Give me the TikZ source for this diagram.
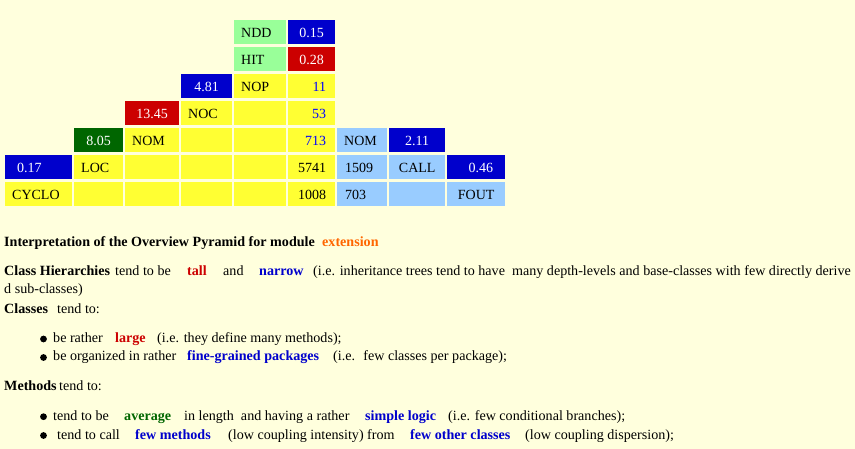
\documentclass[tikz,border=0pt]{standalone}
\usepackage{fontspec}
\setmainfont{Liberation Serif}
\usepackage{xcolor}
\definecolor{pagebg}{HTML}{FFFFDD}
\definecolor{cellyellow}{HTML}{FFFF33}
\definecolor{cellgreen}{HTML}{99FF99}
\definecolor{cellblue}{HTML}{99CCFF}
\definecolor{lowblue}{HTML}{0000CC}
\definecolor{highred}{HTML}{CC0000}
\definecolor{avggreen}{HTML}{006600}
\definecolor{modorange}{HTML}{FF6600}
\newcommand\cellfont{\fontsize{14}{15}\selectfont}
\newcommand\bodyfont{\fontsize{14.1}{16}\selectfont}

\begin{document}
\begin{tikzpicture}[x=1pt,y=-1pt,
	cell/.style={rectangle,anchor=north west,inner sep=0pt,minimum height=24pt,text height=11.5pt,text depth=0.5pt,font=\cellfont},
	lab/.style={cell,inner xsep=7pt,align=left},
	val/.style={cell,text=white},
	cnt/.style={cell,fill=cellyellow,inner xsep=9pt,text width=29pt,align=right},
	txt/.style={anchor=base west,inner sep=0pt,font=\bodyfont},
	hi/.style={txt,font=\bodyfont\bfseries},
	dot/.style={circle,fill=black,inner sep=0pt,minimum size=6.8pt}]
	\useasboundingbox (0,0) rectangle (855,449);
	\fill [pagebg] (0,0) rectangle (855,449);
	% pyramid
	\node (ndd) [lab,fill=cellgreen,text width=38pt] at (234,20) {NDD};
	\node (vndd) [val,fill=lowblue,minimum width=47pt] at (288,20) {0.15};
	\node (hit) [lab,fill=cellgreen,text width=38pt] at (234,47) {HIT};
	\node (vhit) [val,fill=highred,minimum width=47pt] at (288,47) {0.28};
	\node (vnop) [val,fill=lowblue,minimum width=51pt] at (181,74) {4.81};
	\node (nop) [lab,fill=cellyellow,text width=38pt] at (234,74) {NOP};
	\node (nnop) [cnt,text=blue] at (288,74) {11};
	\node (vnoc) [val,fill=highred,minimum width=54pt] at (125,101) {13.45};
	\node (noc) [lab,fill=cellyellow,text width=37pt] at (181,101) {NOC};
	\node (e45) [cell,fill=cellyellow,minimum width=52pt] at (234,101) {};
	\node (nnoc) [cnt,text=blue] at (288,101) {53};
	\node (vnom) [val,fill=avggreen,minimum width=49pt] at (74,128) {8.05};
	\node (nom) [lab,fill=cellyellow,text width=40pt] at (125,128) {NOM};
	\node (e54) [cell,fill=cellyellow,minimum width=51pt] at (181,128) {};
	\node (e55) [cell,fill=cellyellow,minimum width=52pt] at (234,128) {};
	\node (nnom) [cnt,text=blue] at (288,128) {713};
	\node (nomc) [lab,fill=cellblue,text width=36pt] at (337,128) {NOM};
	\node (vcall) [val,fill=lowblue,minimum width=56pt] at (389,128) {2.11};
	\node (vcyclo) [val,fill=lowblue,inner xsep=12pt,text width=43pt,align=left] at (5,155) {0.17};
	\node (loc) [lab,fill=cellyellow,text width=35pt] at (74,155) {LOC};
	\node (e63) [cell,fill=cellyellow,minimum width=54pt] at (125,155) {};
	\node (e64) [cell,fill=cellyellow,minimum width=51pt] at (181,155) {};
	\node (e65) [cell,fill=cellyellow,minimum width=52pt] at (234,155) {};
	\node (nloc) [cnt] at (288,155) {5741};
	\node (ncall) [lab,fill=cellblue,inner xsep=8pt,text width=34pt] at (337,155) {1509};
	\node (call) [cell,fill=cellblue,minimum width=56pt] at (389,155) {CALL};
	\node (vfout) [val,fill=lowblue,inner xsep=12pt,text width=34pt,align=right] at (447,155) {0.46};
	\node (cyclo) [lab,fill=cellyellow,text width=53pt] at (5,182) {CYCLO};
	\node (e72) [cell,fill=cellyellow,minimum width=49pt] at (74,182) {};
	\node (e73) [cell,fill=cellyellow,minimum width=54pt] at (125,182) {};
	\node (e74) [cell,fill=cellyellow,minimum width=51pt] at (181,182) {};
	\node (e75) [cell,fill=cellyellow,minimum width=52pt] at (234,182) {};
	\node (ncyclo) [cnt] at (288,182) {1008};
	\node (nfout) [lab,fill=cellblue,inner xsep=8pt,text width=34pt] at (337,182) {703};
	\node (e78) [cell,fill=cellblue,minimum width=56pt] at (389,182) {};
	\node (fout) [cell,fill=cellblue,minimum width=58pt] at (447,182) {FOUT};
	% interpretation
	\node (title) [hi] at (4,247) {Interpretation of the Overview Pyramid for module};
	\node (module) [hi,text=modorange] at (322,247) {extension};
	\node (hier) [hi] at (4,275.5) {Class Hierarchies};
	\node (hiertend) [txt] at (115,275.5) {tend to be};
	\node (tall) [hi,text=highred] at (187,275.5) {tall};
	\node (hierand) [txt] at (223,275.5) {and};
	\node (narrow) [hi,text=lowblue] at (259,275.5) {narrow};
	\node (hiernote) [txt] at (313,275.5) {(i.e. inheritance trees tend to have~ many depth-levels and base-classes with few directly derive};
	\node (hierwrap) [txt] at (4,294) {d sub-classes)};
	\node (cls) [hi] at (4,314) {Classes};
	\node (clstend) [txt] at (57,314) {tend to:};
	\node (dota) [dot] at (43.5,339) {};
	\node (clsa) [txt] at (53,342.5) {be rather};
	\node (large) [hi,text=highred] at (115,342.5) {large};
	\node (clsanote) [txt] at (157,342.5) {(i.e. they define many methods);};
	\node (dotb) [dot] at (43.5,357.5) {};
	\node (clsb) [txt] at (53,361) {be organized in rather};
	\node (fine) [hi,text=lowblue] at (187,361) {fine-grained packages};
	\node (clsbnote) [txt] at (333,361) {(i.e.~ few classes per package);};
	\node (meth) [hi] at (4,390.5) {Methods};
	\node (methtend) [txt] at (59,390.5) {tend to:};
	\node (dotc) [dot] at (43.5,416.7) {};
	\node (metha) [txt] at (53,420) {tend to be};
	\node (average) [hi,text=avggreen] at (124,420) {average};
	\node (methamid) [txt] at (184,420) {in length~ and having a rather};
	\node (simple) [hi,text=lowblue] at (365,420) {simple logic};
	\node (methanote) [txt] at (448,420) {(i.e. few conditional branches);};
	\node (dotd) [dot] at (43.5,435.5) {};
	\node (methb) [txt] at (57,439) {tend to call};
	\node (fewm) [hi,text=lowblue] at (135,439) {few methods};
	\node (methbmid) [txt] at (228,439) {(low coupling intensity) from};
	\node (fewc) [hi,text=lowblue] at (410,439) {few other classes};
	\node (methbnote) [txt] at (525,439) {(low coupling dispersion);};
\end{tikzpicture}
\end{document}
